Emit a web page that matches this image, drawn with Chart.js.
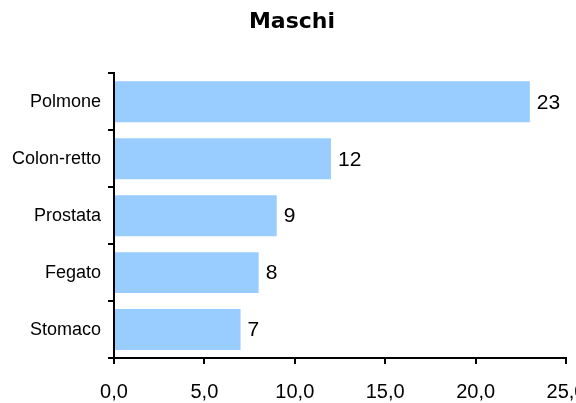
<!DOCTYPE html>
<html>
<head>
<meta charset="utf-8">
<script src="https://cdn.jsdelivr.net/npm/chart.js@4/dist/chart.umd.min.js"></script>
<style>
    html, body { margin: 0; padding: 0; background: #ffffff; overflow: hidden; }
    #chart { display: block; }
</style>
</head>
<body>
<canvas id="chart" width="576" height="403"></canvas>
<script>
// Dati
const TITLE = 'Maschi';
const categories = ['Polmone', 'Colon-retto', 'Prostata', 'Fegato', 'Stomaco'];
const values = [23, 12, 9, 8, 7];
const xTicks = [0, 5, 10, 15, 20, 25];

const BAR_COLOR = '#99ccff';
const FONT = '"Liberation Sans", Arial, sans-serif';

// Formatta numeri con la virgola
function formatTick(value) {
    return value.toFixed(1).replace('.', ',');
}

// Etichette dei valori a destra delle barre
const valueLabels = {
    id: 'valueLabels',
    afterLayout(chart) {
        // il titolo nell'originale e' un po' spostato a destra
        chart.titleBlock.left += 18;
    },
    afterDatasetsDraw(chart) {
        const ctx = chart.ctx;
        const meta = chart.getDatasetMeta(0);
        ctx.save();
        ctx.font = '21px ' + FONT;
        ctx.fillStyle = '#000000';
        ctx.textAlign = 'left';
        ctx.textBaseline = 'middle';
        meta.data.forEach((bar, i) => {
            ctx.fillText(String(values[i]), bar.x + 7, bar.y + 1);
        });
        ctx.restore();
    }
};

const ctx = document.getElementById('chart');

new Chart(ctx, {
    type: 'bar',
    data: {
        labels: categories,
        datasets: [{
            data: values,
            backgroundColor: BAR_COLOR,
            borderWidth: 0,
            categoryPercentage: 1.0,
            barPercentage: 0.72
        }]
    },
    options: {
        indexAxis: 'y',
        responsive: false,
        animation: false,
        layout: {
            padding: { left: 0, right: 10, top: 0, bottom: 0 }
        },
        plugins: {
            legend: { display: false },
            tooltip: { enabled: false },
            title: {
                display: true,
                text: TITLE,
                color: '#000000',
                font: { family: '"DejaVu Sans", Verdana, sans-serif', size: 22, weight: 'bold' },
                padding: { top: 9, bottom: 38 }
            }
        },
        scales: {
            x: {
                type: 'linear',
                min: xTicks[0],
                max: xTicks[xTicks.length - 1],
                afterBuildTicks: (scale) => {
                    scale.ticks = xTicks.map(v => ({ value: v }));
                },
                afterFit: (scale) => {
                    scale.height = 45;
                    scale.paddingLeft = 0;
                    scale.paddingRight = 0;
                },
                border: { color: '#000000', width: 2 },
                grid: {
                    drawOnChartArea: false,
                    color: '#000000',
                    lineWidth: 2,
                    tickLength: 6
                },
                ticks: {
                    color: '#000000',
                    font: { family: FONT, size: 20 },
                    padding: 16,
                    maxRotation: 0,
                    callback: (value) => formatTick(value)
                }
            },
            y: {
                afterFit: (scale) => {
                    scale.width = 114;
                    scale.paddingTop = 0;
                    scale.paddingBottom = 0;
                },
                border: { color: '#000000', width: 2 },
                grid: {
                    offset: true,
                    drawOnChartArea: false,
                    color: '#000000',
                    lineWidth: 2,
                    tickLength: 6
                },
                ticks: {
                    color: '#000000',
                    font: { family: FONT, size: 18 },
                    padding: 7
                }
            }
        }
    },
    plugins: [valueLabels]
});
</script>
</body>
</html>
